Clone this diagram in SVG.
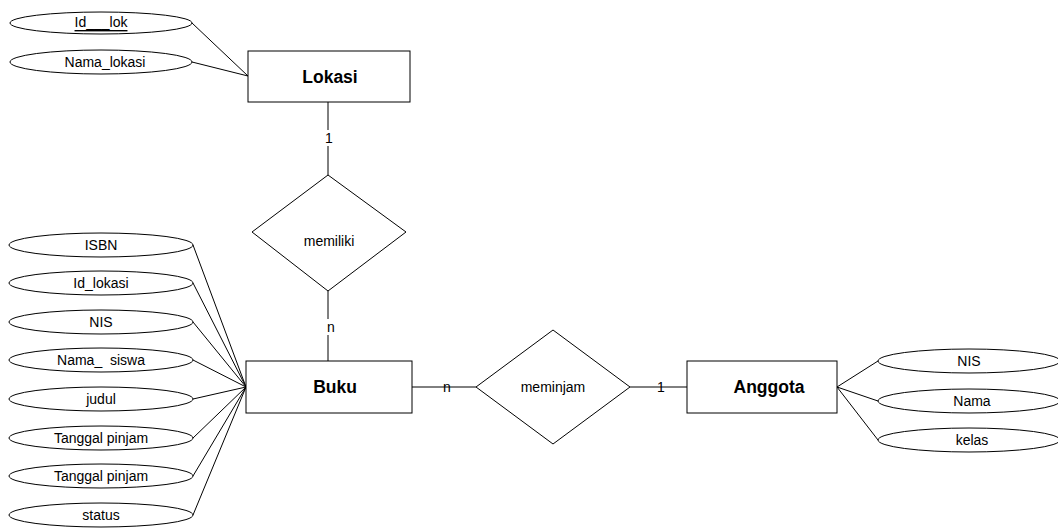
<svg xmlns="http://www.w3.org/2000/svg" width="1058" height="529" viewBox="0 0 1058 529">
<style>
.s{fill:#fff;stroke:#000;stroke-width:1}
.t{font-family:"Liberation Sans",Arial,sans-serif;font-size:14px;fill:#000;text-anchor:middle;dominant-baseline:central}
.b{font-family:"Liberation Sans",Arial,sans-serif;font-size:17.5px;font-weight:bold;fill:#000;text-anchor:middle;dominant-baseline:central}
.c line{stroke:#000;stroke-width:1}
</style>
<rect width="1058" height="529" fill="#fff"/>
<g class="c" id="connectors">
<line x1="192" y1="23" x2="248" y2="76"/>
<line x1="192" y1="62" x2="248" y2="76"/>
<line x1="328" y1="102" x2="328" y2="175"/>
<line x1="328" y1="291" x2="328" y2="361"/>
<line x1="193" y1="245" x2="246" y2="387"/>
<line x1="193" y1="283" x2="246" y2="387"/>
<line x1="193" y1="322" x2="246" y2="387"/>
<line x1="193" y1="360" x2="246" y2="387"/>
<line x1="193" y1="399" x2="246" y2="387"/>
<line x1="193" y1="438" x2="246" y2="387"/>
<line x1="193" y1="476" x2="246" y2="387"/>
<line x1="193" y1="515" x2="246" y2="387"/>
<line x1="412" y1="387" x2="476" y2="387"/>
<line x1="630" y1="387" x2="687" y2="387"/>
<line x1="837" y1="387" x2="878" y2="361"/>
<line x1="837" y1="387" x2="878" y2="401"/>
<line x1="837" y1="387" x2="878" y2="440"/>
<rect x="320" y="130" width="16" height="16" fill="#fff" stroke="none"/>
<rect x="320" y="319" width="16" height="16" fill="#fff" stroke="none"/>
<text class="t" x="329" y="138">1</text>
<text class="t" x="331" y="327">n</text>
<text class="t" x="447" y="387">n</text>
<text class="t" x="661" y="387">1</text>
</g>
<g id="attr-idlok"><ellipse class="s" cx="101" cy="23" rx="91" ry="11"/><text class="t" x="101" y="22" text-decoration="underline" xml:space="preserve">Id___lok</text></g>
<g id="attr-namalokasi"><ellipse class="s" cx="101" cy="62" rx="91" ry="12"/><text class="t" x="105" y="62">Nama_lokasi</text></g>
<g id="lokasi"><rect class="s" x="248" y="51" width="162" height="51"/><text class="b" x="330" y="77">Lokasi</text></g>
<g id="memiliki"><polygon class="s" points="328,175 406,232 328,291 252,232"/><text class="t" x="329" y="241">memiliki</text></g>
<g id="buku"><rect class="s" x="246" y="361" width="166" height="52"/><text class="b" x="335" y="387">Buku</text></g>
<g id="meminjam"><polygon class="s" points="553,330 630,387 553,444 476,387"/><text class="t" x="553" y="387">meminjam</text></g>
<g id="anggota"><rect class="s" x="687" y="361" width="150" height="52"/><text class="b" x="769" y="387">Anggota</text></g>
<g id="attr-isbn"><ellipse class="s" cx="101" cy="245" rx="92" ry="12"/><text class="t" x="101" y="245">ISBN</text></g>
<g id="attr-idlokasi"><ellipse class="s" cx="101" cy="283" rx="92" ry="12"/><text class="t" x="101" y="283">Id_lokasi</text></g>
<g id="attr-nis"><ellipse class="s" cx="101" cy="322" rx="92" ry="12"/><text class="t" x="101" y="322">NIS</text></g>
<g id="attr-namasiswa"><ellipse class="s" cx="101" cy="360" rx="92" ry="12"/><text class="t" x="101" y="360" xml:space="preserve">Nama_  siswa</text></g>
<g id="attr-judul"><ellipse class="s" cx="101" cy="399" rx="92" ry="12"/><text class="t" x="101" y="399">judul</text></g>
<g id="attr-tgl1"><ellipse class="s" cx="101" cy="438" rx="92" ry="12"/><text class="t" x="101" y="438">Tanggal pinjam</text></g>
<g id="attr-tgl2"><ellipse class="s" cx="101" cy="476" rx="92" ry="12"/><text class="t" x="101" y="476">Tanggal pinjam</text></g>
<g id="attr-status"><ellipse class="s" cx="101" cy="515" rx="92" ry="12"/><text class="t" x="101" y="515">status</text></g>
<g id="attr-nis2"><ellipse class="s" cx="969" cy="361" rx="91" ry="12"/><text class="t" x="969" y="361">NIS</text></g>
<g id="attr-nama"><ellipse class="s" cx="969" cy="401" rx="91" ry="12"/><text class="t" x="972" y="401">Nama</text></g>
<g id="attr-kelas"><ellipse class="s" cx="969" cy="440" rx="91" ry="12"/><text class="t" x="972" y="440">kelas</text></g>
</svg>
